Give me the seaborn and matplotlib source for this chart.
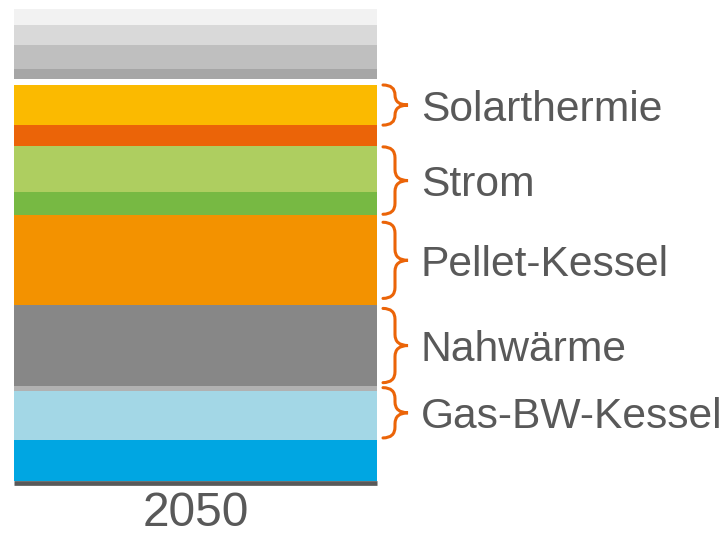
import matplotlib
matplotlib.use("Agg")
import matplotlib.pyplot as plt
import seaborn as sns
import numpy as np
from matplotlib.path import Path
from matplotlib.patches import PathPatch
import matplotlib.transforms as mtransforms

# ---- data (bottom to top, shares in %) ----
year = "2050"
segment_values = [8.7, 10.4, 1.1, 17.0, 19.1, 5.0, 9.7, 4.4, 8.5, 1.3, 2.1, 5.1, 4.2, 3.4]
segment_colors = ["#00A6E2", "#A3D7E6", "#B1B1B1", "#878787", "#F39200", "#77B943",
                  "#AECE60", "#EB6408", "#FBBA00", "#FFFFFF", "#A6A6A6", "#BFBFBF",
                  "#D9D9D9", "#F2F2F2"]
group_labels = ["Gas-BW-Kessel", "Nahwärme", "Pellet-Kessel", "Strom", "Solarthermie"]
group_segments = [(1, 2), (3, 3), (4, 4), (5, 6), (8, 8)]   # first/last segment index
brace_inset_px = [2, 3, 7, 1, 0]

sns.set_theme(style="white")
plt.rcParams['font.family'] = ['Liberation Sans', 'DejaVu Sans']

fig = plt.figure(figsize=(7.25, 5.33), dpi=100)
W, H = 725, 533
ax = fig.add_axes([14 / W, (H - 481) / H, 363 / W, 472 / H])

bottoms = np.concatenate([[0], np.cumsum(segment_values)[:-1]])
for v, b, c in zip(segment_values, bottoms, segment_colors):
    sns.barplot(x=[year], y=[v], bottom=b, color=c, saturation=1, width=1.0,
                linewidth=0, edgecolor="none", ax=ax)

total = float(np.sum(segment_values))
ax.set_xlim(-0.5, 0.5)
ax.set_ylim(0, total)
ax.set_ylabel("")
ax.set_xlabel("")
ax.set_yticks([])
for s in ["top", "left", "right"]:
    ax.spines[s].set_visible(False)
ax.spines["bottom"].set_color("#595959")
ax.spines["bottom"].set_linewidth(3.4)
ax.spines["bottom"].set_capstyle("butt")
ax.spines["bottom"].set_position(("outward", 1.7))
ax.tick_params(axis="x", length=0, pad=5.5, labelsize=34.5, labelcolor="#595959")

# ---- braces and labels ----
px_per_unit = 472 / total
trans = mtransforms.blended_transform_factory(ax.transAxes, ax.transData)
x0, xm, x1 = (383 - 14) / 363, (395 - 14) / 363, (408 - 14) / 363
xt = (421 - 14) / 363
top_edges = np.cumsum(segment_values)
for lab, (i0, i1), ins in zip(group_labels, group_segments, brace_inset_px):
    lo = bottoms[i0] + ins / px_per_unit
    hi = top_edges[i1] - ins / px_per_unit
    mid = (lo + hi) / 2
    r = min(11 / px_per_unit, (hi - lo) / 4)
    verts = [(x0, hi), (xm, hi), (xm, hi - r), (xm, mid + r), (xm, mid), (x1, mid),
             (xm, mid), (xm, mid - r), (xm, lo + r), (xm, lo), (x0, lo)]
    codes = [Path.MOVETO, Path.CURVE3, Path.CURVE3, Path.LINETO, Path.CURVE3, Path.CURVE3,
             Path.CURVE3, Path.CURVE3, Path.LINETO, Path.CURVE3, Path.CURVE3]
    patch = PathPatch(Path(verts, codes), facecolor="none", edgecolor="#EB6408",
                      linewidth=2.2, transform=trans, clip_on=False, capstyle="round")
    ax.add_patch(patch)
    ax.text(xt, mid, lab, transform=trans, ha="left", va="center_baseline",
            fontsize=30.7, color="#595959", clip_on=False)

fig.savefig("out.png", dpi=100)
